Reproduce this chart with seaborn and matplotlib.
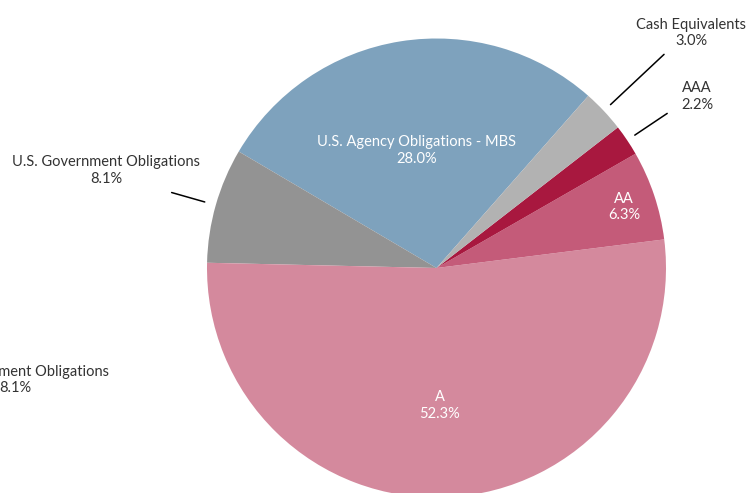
import numpy as np
import matplotlib
matplotlib.use("Agg")
import matplotlib.pyplot as plt
import seaborn as sns

# ---- Data ----
labels = ["U.S. Agency Obligations - MBS", "U.S. Government Obligations", "A",
          "AA", "AAA", "Cash Equivalents"]
shares = [28.0, 8.1, 52.3, 6.3, 2.2, 3.0]
colors = ["#7ea2bd", "#939393", "#d4899d", "#c45b79", "#a8183f", "#b2b2b2"]
inside = [True, False, True, True, False, False]

sns.set_theme(style="white")
plt.rcParams['font.family'] = ['Lato', 'DejaVu Sans']

W, H = 752, 493
fig = plt.figure(figsize=(W / 100, H / 100), dpi=100)
ax = fig.add_axes([0, 0, 1, 1])

cx, cy, R = 436.5, H - 268, 229.5
wedges, _ = ax.pie(shares, colors=colors, startangle=48.6, counterclock=True,
                   center=(cx, cy), radius=R, frame=True,
                   wedgeprops=dict(linewidth=0))
ax.set_xlim(0, W)
ax.set_ylim(0, H)
ax.axis("off")

# label position per slice: (distance as fraction of radius, angle in degrees)
label_pos = [(0.52, 99.6), (1.5, 163.5), (0.6, -88.7), (0.86, 18.0),
             (1.36, 33.4), (1.51, 42.7)]
line_r = {1: (1.05, 1.2), 4: (1.04, 1.21), 5: (1.04, 1.36)}
fs = 10.5

for i, w in enumerate(wedges):
    r, ang = label_pos[i]
    mid = np.deg2rad(ang)
    tx = cx + r * R * np.cos(mid)
    ty = cy + r * R * np.sin(mid)
    txt = f"{labels[i]}\n{shares[i]:.1f}%"
    ax.text(tx, ty, txt, ha="center", va="center", fontsize=fs,
            color="white" if inside[i] else "#333333", linespacing=1.25)
    if i in line_r:
        r1, r2 = line_r[i]
        a = np.deg2rad((w.theta1 + w.theta2) / 2)
        ax.plot([cx + r1 * R * np.cos(a), cx + r2 * R * np.cos(a)],
                [cy + r1 * R * np.sin(a), cy + r2 * R * np.sin(a)],
                color="black", lw=1.1)

# stray label from the source slide, cut at the left edge
ax.text(15, H - 380, f"{labels[1]}\n{shares[1]:.1f}%", ha="center", va="center",
        fontsize=fs, color="#333333", linespacing=1.25)

fig.savefig("out.png", dpi=100)
